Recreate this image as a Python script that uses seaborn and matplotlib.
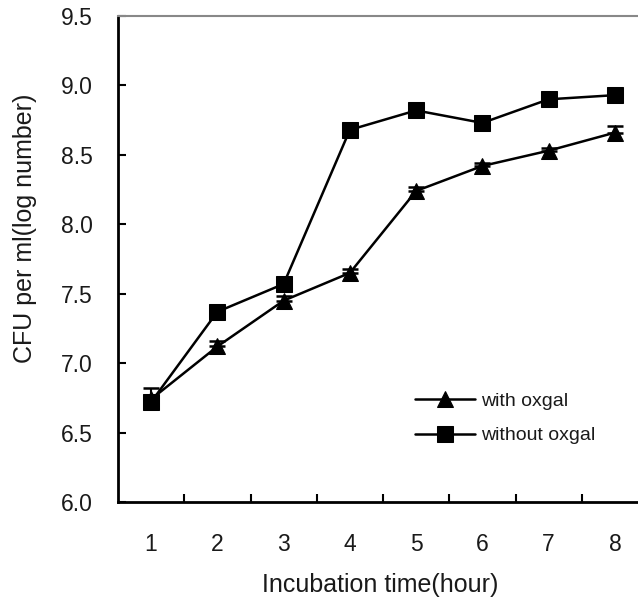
import numpy as np
import pandas as pd
import matplotlib
matplotlib.use("Agg")
import matplotlib.pyplot as plt
import seaborn as sns

hours = [1, 2, 3, 4, 5, 6, 7, 8]
with_oxgal = [6.74, 7.12, 7.45, 7.65, 8.24, 8.42, 8.53, 8.66]
with_oxgal_err = [0.08, 0.04, 0.03, 0.03, 0.03, 0.02, 0.02, 0.05]
without_oxgal = [6.72, 7.37, 7.57, 8.68, 8.82, 8.73, 8.90, 8.93]
without_oxgal_err = [0.04, 0.03, 0.04, 0.02, 0.02, 0.02, 0.03, 0.02]
series_names = ["with oxgal", "without oxgal"]
y_ticks = [6.0, 6.5, 7.0, 7.5, 8.0, 8.5, 9.0, 9.5]

df = pd.concat([
    pd.DataFrame({"hour": hours, "cfu": with_oxgal, "err": with_oxgal_err, "group": series_names[0]}),
    pd.DataFrame({"hour": hours, "cfu": without_oxgal, "err": without_oxgal_err, "group": series_names[1]}),
])

sns.set_style("ticks")
plt.rcParams["font.family"] = ["Liberation Sans", "DejaVu Sans"]

text_color = "#1a1a1a"

fig = plt.figure(figsize=(6.38, 6.01), dpi=100)
ax = fig.add_axes([118 / 638, 99 / 601, 530 / 638, 486 / 601])

# error bars (upper caps) under the markers
for name in series_names:
    sub = df[df["group"] == name]
    ax.errorbar(sub["hour"], sub["cfu"], yerr=[np.zeros(len(sub)), sub["err"]],
                fmt="none", ecolor="black", elinewidth=1.5, capsize=6, capthick=1.8, zorder=2)

sns.lineplot(data=df, x="hour", y="cfu", hue="group", style="group",
             markers={"with oxgal": "^", "without oxgal": "s"}, dashes=False,
             palette={"with oxgal": "black", "without oxgal": "black"},
             markersize=12, linewidth=1.8, markeredgecolor="black",
             ax=ax, legend=True, zorder=3)

ax.set_xlim(0.5, 8.5)
ax.set_ylim(6.0, 9.5)
ax.set_yticks(y_ticks)
ax.set_yticklabels([f"{v:.1f}" for v in y_ticks], fontsize=16.5, color=text_color)
ax.set_xticks(hours)
ax.set_xticklabels([str(h) for h in hours], fontsize=16.5, color=text_color)
ax.set_xticks(np.arange(1.5, 8.5, 1.0), minor=True)
ax.tick_params(axis="x", which="major", length=0, pad=22)
ax.tick_params(axis="x", which="minor", direction="in", length=6, width=1.5, color="black")
ax.tick_params(axis="y", direction="in", length=6, width=1.5, pad=18, color="black")

ax.set_xlabel("Incubation time(hour)", fontsize=18, color=text_color)
ax.set_ylabel("CFU per ml(log number)", fontsize=18, color=text_color)
ax.xaxis.set_label_coords(0.494, -0.146)
ax.yaxis.set_label_coords(-0.153, 0.564)

for side in ["left", "bottom"]:
    ax.spines[side].set_color("black")
    ax.spines[side].set_linewidth(2)
ax.spines["top"].set_color("#888888")
ax.spines["top"].set_linewidth(1.5)
ax.spines["right"].set_visible(False)

leg = ax.legend(loc="upper left", bbox_to_anchor=(0.56, 0.225), frameon=False,
                fontsize=14, handlelength=3.1, handletextpad=0.3, labelspacing=0.85,
                borderaxespad=0, borderpad=0)
for h in leg.legend_handles:
    h.set_color("black")
    h.set_markersize(12)
for t in leg.get_texts():
    t.set_color(text_color)

fig.savefig("out.png", dpi=100)
